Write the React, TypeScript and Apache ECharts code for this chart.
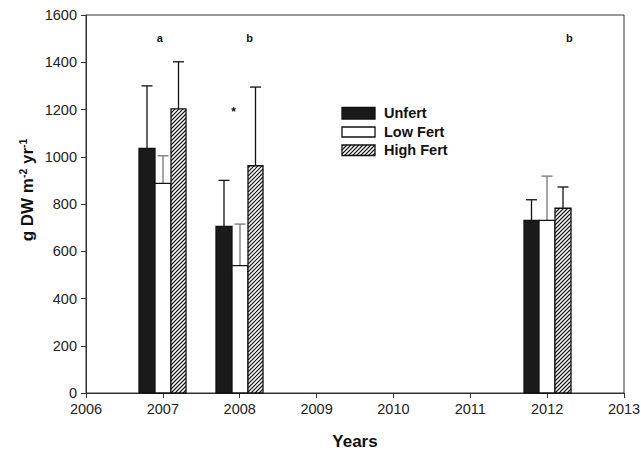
import React, { useEffect, useRef } from "react";
import * as echarts from "echarts";

// ---- data ----
const years = [2007, 2008, 2012];
const unfert = [1035, 705, 731];
const unfertErr = [1300, 900, 818];
const lowFert = [887, 539, 731];
const lowFertErr = [1004, 715, 918];
const highFert = [1203, 962, 782];
const highFertErr = [1402, 1295, 872];

const letterLabels = ["a", "b", "b"];
const letterX = [2006.96, 2008.13, 2012.29];
const letterY = [1503, 1503, 1503];
const starLabels = ["*"];
const starX = [2007.92];
const starY = [1190];

const seriesNames = ["Unfert", "Low Fert", "High Fert"];

// ---- styles ----
const FONT = "'Liberation Sans', Arial, sans-serif";
const BAR_W = 0.204; // in years
const HATCH = 4;
const CAP = 11;

function hatchLines(x0: number, y0: number, x1: number, y1: number, step: number) {
  const out: any[] = [];
  const kStart = Math.ceil((x0 + y0) / step) * step;
  for (let k = kStart; k <= x1 + y1; k += step) {
    const xa = Math.max(x0, k - y1);
    const xb = Math.min(x1, k - y0);
    if (xb - xa > 0.3) {
      out.push({
        type: "line",
        shape: { x1: xa, y1: k - xa, x2: xb, y2: k - xb },
        style: { stroke: "#111", lineWidth: 1.1 },
        silent: true,
      });
    }
  }
  return out;
}

function makeRender(offset: number, fill: string, hatch: boolean, errColor: string) {
  return (_params: any, api: any) => {
    const x = api.value(0);
    const v = api.value(1);
    const e = api.value(2);
    const p0 = api.coord([x + (offset - 0.5) * BAR_W, v]);
    const p1 = api.coord([x + (offset + 0.5) * BAR_W, 0]);
    const x0 = Math.round(p0[0]);
    const x1 = Math.round(p1[0]);
    const y0 = p0[1];
    const y1 = p1[1];
    const cx = (x0 + x1) / 2;
    const pe = api.coord([x, e]);
    const children: any[] = [];
    children.push({
      type: "line",
      shape: { x1: cx, y1: y0, x2: cx, y2: pe[1] },
      style: { stroke: errColor, lineWidth: 1.3 },
    });
    children.push({
      type: "line",
      shape: { x1: cx - CAP / 2, y1: pe[1], x2: cx + CAP / 2, y2: pe[1] },
      style: { stroke: errColor, lineWidth: 1.3 },
    });
    children.push({
      type: "rect",
      shape: { x: x0, y: y0, width: x1 - x0, height: y1 - y0 },
      style: { fill, stroke: "none" },
    });
    if (hatch) children.push(...hatchLines(x0, y0, x1, y1, HATCH));
    children.push({
      type: "rect",
      shape: { x: x0, y: y0, width: x1 - x0, height: y1 - y0 },
      style: { fill: "none", stroke: "#111", lineWidth: 1.3 },
    });
    return { type: "group", children };
  };
}

function textRender(labels: string[], size: number) {
  return (params: any, api: any) => {
    const p = api.coord([api.value(0), api.value(1)]);
    return {
      type: "text",
      x: p[0],
      y: p[1],
      style: {
        text: labels[params.dataIndex],
        fontFamily: FONT,
        fontWeight: "bold",
        fontSize: size,
        fill: "#111",
        align: "center",
        verticalAlign: "middle",
      },
    };
  };
}

function legendGraphic() {
  const items: any[] = [];
  const boxes = [
    { y: 107.5, h: 11.5, fill: "#1a1a1a", hatch: false },
    { y: 127, h: 10, fill: "#fff", hatch: false },
    { y: 145, h: 10.5, fill: "#fff", hatch: true },
  ];
  boxes.forEach((b, i) => {
    const x0 = 342;
    const w = 33;
    items.push({
      type: "rect",
      shape: { x: x0, y: b.y, width: w, height: b.h },
      style: { fill: b.fill, stroke: "none" },
    });
    if (b.hatch) items.push(...hatchLines(x0, b.y, x0 + w, b.y + b.h, HATCH));
    items.push({
      type: "rect",
      shape: { x: x0, y: b.y, width: w, height: b.h },
      style: { fill: "none", stroke: "#111", lineWidth: 1.3 },
    });
    items.push({
      type: "text",
      x: 384,
      y: b.y + b.h / 2,
      style: {
        text: seriesNames[i],
        fontFamily: FONT,
        fontWeight: "bold",
        fontSize: 14.5,
        fill: "#111",
        verticalAlign: "middle",
      },
    });
  });
  return items;
}

export default function App() {
  const ref = useRef<HTMLDivElement>(null);
  useEffect(() => {
    if (!ref.current) return;
    document.body.style.margin = "0";
    const chart = echarts.init(ref.current, null, { renderer: "svg" });
    const barData = (vals: number[], errs: number[]) =>
      years.map((y, i) => [y, vals[i], errs[i]]);
    const plain = (v: number) => String(v);
    const option: any = {
      animation: false,
      backgroundColor: "#fff",
      grid: {
        left: 86,
        right: 17,
        top: 15,
        bottom: 57,
        show: true,
        borderColor: "#333",
        borderWidth: 1,
        containLabel: false,
        outerBoundsMode: "none",
      },
      xAxis: {
        type: "value",
        min: 2006,
        max: 2013,
        interval: 1,
        name: "Years",
        nameLocation: "middle",
        nameGap: 40,
        nameTextStyle: { fontFamily: FONT, fontWeight: "bold", fontSize: 17, color: "#111" },
        axisLine: { show: true, lineStyle: { color: "#333", width: 1 } },
        axisTick: { show: true, length: 5, inside: false, lineStyle: { color: "#333" } },
        axisLabel: { fontFamily: FONT, fontSize: 14.5, color: "#222", margin: 8, formatter: plain },
        splitLine: { show: false },
      },
      yAxis: {
        type: "value",
        min: 0,
        max: 1600,
        interval: 200,
        axisLine: { show: true, lineStyle: { color: "#333", width: 1 } },
        axisTick: { show: true, length: 5, inside: false, lineStyle: { color: "#333" } },
        axisLabel: { fontFamily: FONT, fontSize: 14.5, color: "#222", margin: 9, formatter: plain },
        splitLine: { show: false },
      },
      graphic: [
        {
          type: "text",
          x: 27,
          y: 190,
          rotation: Math.PI / 2,
          style: {
            text: "{n|g DW m}{s|-2}{n| yr}{s|-1}",
            align: "center",
            verticalAlign: "middle",
            rich: {
              n: { fontFamily: FONT, fontWeight: "bold", fontSize: 17, fill: "#111", color: "#111" },
              s: {
                fontFamily: FONT,
                fontWeight: "bold",
                fontSize: 10.5,
                fill: "#111",
                color: "#111",
                verticalAlign: "top",
                padding: [0, 0, 8, 0],
              },
            },
          },
        },
        ...legendGraphic(),
      ],
      series: [
        {
          type: "custom",
          name: seriesNames[0],
          renderItem: makeRender(-1, "#1a1a1a", false, "#111"),
          data: barData(unfert, unfertErr),
          encode: { x: 0, y: [1, 2] },
          clip: false,
        },
        {
          type: "custom",
          name: seriesNames[1],
          renderItem: makeRender(0, "#fff", false, "#777"),
          data: barData(lowFert, lowFertErr),
          encode: { x: 0, y: [1, 2] },
          clip: false,
        },
        {
          type: "custom",
          name: seriesNames[2],
          renderItem: makeRender(1, "#fff", true, "#111"),
          data: barData(highFert, highFertErr),
          encode: { x: 0, y: [1, 2] },
          clip: false,
        },
        {
          type: "custom",
          renderItem: textRender(letterLabels, 11),
          data: letterX.map((x, i) => [x, letterY[i]]),
          clip: false,
        },
        {
          type: "custom",
          renderItem: textRender(starLabels, 12),
          data: starX.map((x, i) => [x, starY[i]]),
          clip: false,
        },
      ],
    };
    chart.setOption(option);
    return () => chart.dispose();
  }, []);
  return <div ref={ref} style={{ width: 641, height: 450 }} />;
}
